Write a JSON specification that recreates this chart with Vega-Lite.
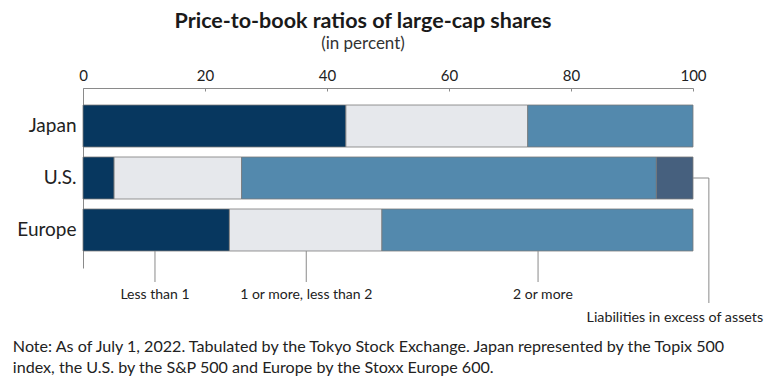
{
  "$schema": "https://vega.github.io/schema/vega-lite/v6.json",
  "autosize": "none",
  "width": 610,
  "height": 180,
  "padding": {"left": 83, "top": 88, "right": 77, "bottom": 113},
  "background": "white",
  "config": {
    "font": "Lato",
    "view": {"stroke": null}
  },
  "title": {
    "text": "Price-to-book ratios of large-cap shares",
    "subtitle": "(in percent)",
    "fontSize": 21.5,
    "fontWeight": "bold",
    "color": "#1a1a1a",
    "subtitleFontSize": 17,
    "subtitleColor": "#333",
    "subtitlePadding": 4,
    "anchor": "middle",
    "dx": -25,
    "offset": 16
  },
  "datasets": {
    "bars": [
      {"country": "Japan", "category": "Less than 1", "ord": 1, "value": 43.1},
      {"country": "Japan", "category": "1 or more, less than 2", "ord": 2, "value": 29.8},
      {"country": "Japan", "category": "2 or more", "ord": 3, "value": 27.1},
      {"country": "U.S.", "category": "Less than 1", "ord": 1, "value": 5.1},
      {"country": "U.S.", "category": "1 or more, less than 2", "ord": 2, "value": 20.9},
      {"country": "U.S.", "category": "2 or more", "ord": 3, "value": 68.0},
      {"country": "U.S.", "category": "Liabilities in excess of assets", "ord": 4, "value": 6.0},
      {"country": "Europe", "category": "Less than 1", "ord": 1, "value": 24.0},
      {"country": "Europe", "category": "1 or more, less than 2", "ord": 2, "value": 25.0},
      {"country": "Europe", "category": "2 or more", "ord": 3, "value": 51.0}
    ],
    "leaders": [
      {"x": 11.8, "x2": 11.8, "y": 16.3, "y2": 19.4},
      {"x": 36.6, "x2": 36.6, "y": 16.3, "y2": 19.4},
      {"x": 74.6, "x2": 74.6, "y": 16.3, "y2": 19.4},
      {"x": 102.6, "x2": 102.6, "y": 9.0, "y2": 21.5},
      {"x": 100, "x2": 102.6, "y": 9.0, "y2": 9.0}
    ],
    "labels": [
      {"x": 11.8, "y": 20.7, "label": "Less than 1"},
      {"x": 36.6, "y": 20.7, "label": "1 or more, less than 2"},
      {"x": 75.4, "y": 20.7, "label": "2 or more"}
    ],
    "rlabels": [
      {"x": 111.5, "y": 23.0, "label": "Liabilities in excess of assets"}
    ],
    "notes": [
      {"x": -11.5, "y": 25.9, "label": "Note: As of July 1, 2022. Tabulated by the Tokyo Stock Exchange. Japan represented by the Topix 500"},
      {"x": -11.5, "y": 28.0, "label": "index, the U.S. by the S&P 500 and Europe by the Stoxx Europe 600."}
    ]
  },
  "layer": [
    {
      "data": {"name": "bars"},
      "mark": {"type": "bar", "stroke": "#7a7a7a", "strokeWidth": 0.8},
      "encoding": {
        "y": {
          "field": "country", "type": "nominal", "sort": ["Japan", "U.S.", "Europe"],
          "scale": {"paddingInner": 0.192, "paddingOuter": 0.327},
          "axis": {"title": null, "domain": true, "domainColor": "#8a8a8a", "ticks": false, "labelFontSize": 19, "labelColor": "#222", "labelPadding": 7}
        },
        "x": {
          "field": "value", "type": "quantitative", "stack": "zero",
          "scale": {"domain": [0, 100], "nice": false},
          "axis": {"orient": "top", "title": null, "values": [0, 20, 40, 60, 80, 100], "grid": false, "labelFlush": false, "domainColor": "#8a8a8a", "tickColor": "#8a8a8a", "tickSize": -3, "labelFontSize": 15, "labelColor": "#222", "labelPadding": 8}
        },
        "order": {"field": "ord", "type": "quantitative"},
        "color": {
          "field": "category", "type": "nominal",
          "scale": {
            "domain": ["Less than 1", "1 or more, less than 2", "2 or more", "Liabilities in excess of assets"],
            "range": ["#07375f", "#e6e8ec", "#5389ad", "#46607e"]
          },
          "legend": null
        }
      }
    },
    {
      "data": {"name": "leaders"},
      "mark": {"type": "rule", "color": "#8a8a8a", "strokeWidth": 1},
      "encoding": {
        "x": {"field": "x", "type": "quantitative"},
        "x2": {"field": "x2"},
        "y": {"field": "y", "type": "quantitative", "scale": {"domain": [0, 18], "reverse": true, "nice": false}, "axis": null},
        "y2": {"field": "y2"}
      }
    },
    {
      "data": {"name": "labels"},
      "mark": {"type": "text", "fontSize": 14, "color": "#222", "align": "center", "baseline": "middle"},
      "encoding": {
        "x": {"field": "x", "type": "quantitative"},
        "y": {"field": "y", "type": "quantitative", "scale": {"domain": [0, 18], "reverse": true, "nice": false}, "axis": null},
        "text": {"field": "label"}
      }
    },
    {
      "data": {"name": "rlabels"},
      "mark": {"type": "text", "fontSize": 14.3, "color": "#222", "align": "right", "baseline": "middle"},
      "encoding": {
        "x": {"field": "x", "type": "quantitative"},
        "y": {"field": "y", "type": "quantitative", "scale": {"domain": [0, 18], "reverse": true, "nice": false}, "axis": null},
        "text": {"field": "label"}
      }
    },
    {
      "data": {"name": "notes"},
      "mark": {"type": "text", "fontSize": 16.1, "color": "#222", "align": "left", "baseline": "middle"},
      "encoding": {
        "x": {"field": "x", "type": "quantitative"},
        "y": {"field": "y", "type": "quantitative", "scale": {"domain": [0, 18], "reverse": true, "nice": false}, "axis": null},
        "text": {"field": "label"}
      }
    }
  ],
  "resolve": {"scale": {"y": "independent"}, "axis": {"y": "independent"}}
}
